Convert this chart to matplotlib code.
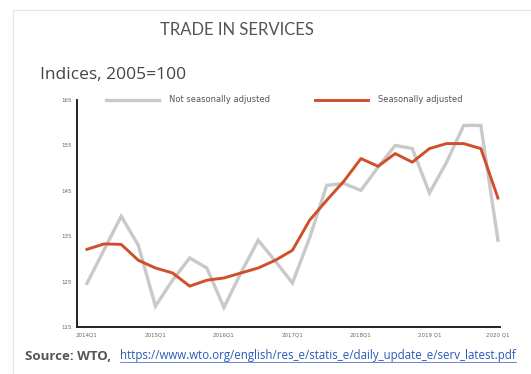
import matplotlib
matplotlib.use("Agg")
import matplotlib.pyplot as plt
from matplotlib.lines import Line2D
from matplotlib.patches import Rectangle

# quarterly index values, 2005=100, 2014Q1 .. 2020Q1
quarters = [f"{y}Q{q}" for y in range(2014, 2021) for q in range(1, 5)][:25]
not_sa = [124.6, 132.0, 139.4, 133.0, 119.6, 125.3, 130.2, 128.0, 119.3,
          127.0, 134.1, 129.5, 124.7, 134.6, 146.2, 146.6, 145.1, 150.2,
          155.0, 154.3, 144.5, 151.3, 159.4, 159.4, 134.1]
sa = [132.1, 133.3, 133.2, 129.7, 128.0, 126.9, 124.0, 125.3, 125.8,
      126.9, 128.0, 129.7, 131.9, 138.5, 142.9, 147.1, 152.1, 150.4,
      153.2, 151.3, 154.3, 155.4, 155.4, 154.3, 143.4]
xtick_labels = ["2014Q1", "2015Q1", "2016Q1", "2017Q1", "2018Q1",
                "2019 Q1", "2020 Q1"]
yticks = [115, 125, 135, 145, 155, 165]

W, H = 531, 374
fig = plt.figure(figsize=(W / 100, H / 100), dpi=100)
fig.patch.set_facecolor("white")

# faint slide frame
fig.add_artist(Rectangle((13 / W, -0.1), 1.2, 1 - 10 / H + 0.1,
                         transform=fig.transFigure, fill=False,
                         edgecolor="#e4e4e4", linewidth=0.8))

ax = fig.add_axes([77 / W, 1 - 327 / H, 423 / W, 227 / H])
x = list(range(len(quarters)))
ax.plot(x, not_sa, color="#c9c9c9", lw=2.4, solid_joinstyle="miter",
        label="Not seasonally adjusted")
ax.plot(x, sa, color="#cf4f2b", lw=2.1, label="Seasonally adjusted")

ax.set_xlim(-0.58, 24.12)
ax.set_ylim(115, 165)
ax.set_yticks(yticks)
ax.set_xticks(range(0, 25, 4))
ax.set_xticklabels(xtick_labels)
ax.tick_params(length=0, labelsize=4.0, labelcolor="#666666", pad=4)
for s in ("top", "right"):
    ax.spines[s].set_visible(False)
for s in ("left", "bottom"):
    ax.spines[s].set_color("#222222")
    ax.spines[s].set_linewidth(1.4)

ax.legend(loc="center", bbox_to_anchor=(0.49, 1.0), ncol=2, frameon=False,
          fontsize=6.0, labelcolor="#555555", handlelength=6.4,
          columnspacing=5.4, handletextpad=1.2)

fig.text(237 / W, 1 - 30 / H, "TRADE IN SERVICES", ha="center",
         va="center", fontsize=12, color="#555555", family="Lato")
fig.text(40 / W, 1 - 75 / H, "Indices, 2005=100", ha="left", va="center",
         fontsize=12.5, color="#444444", family="Open Sans")

src = fig.text(25 / W, 1 - 356 / H, "Source: WTO,", ha="left", va="center",
               fontsize=9.5, color="#555555", fontweight="bold",
               family="Open Sans")
url = "https://www.wto.org/english/res_e/statis_e/daily_update_e/serv_latest.pdf"
link = fig.text(120 / W, 1 - 356 / H, url, ha="left", va="center",
                fontsize=8.3, color="#2a58b8", family="Open Sans")

# underline the link
fig.canvas.draw()
bb = link.get_window_extent().transformed(fig.transFigure.inverted())
fig.add_artist(Line2D([bb.x0, bb.x1], [bb.y0 + 0.002, bb.y0 + 0.002],
                      transform=fig.transFigure, color="#2a58b8", lw=0.5))

fig.savefig("out.png", dpi=100, facecolor="white")
